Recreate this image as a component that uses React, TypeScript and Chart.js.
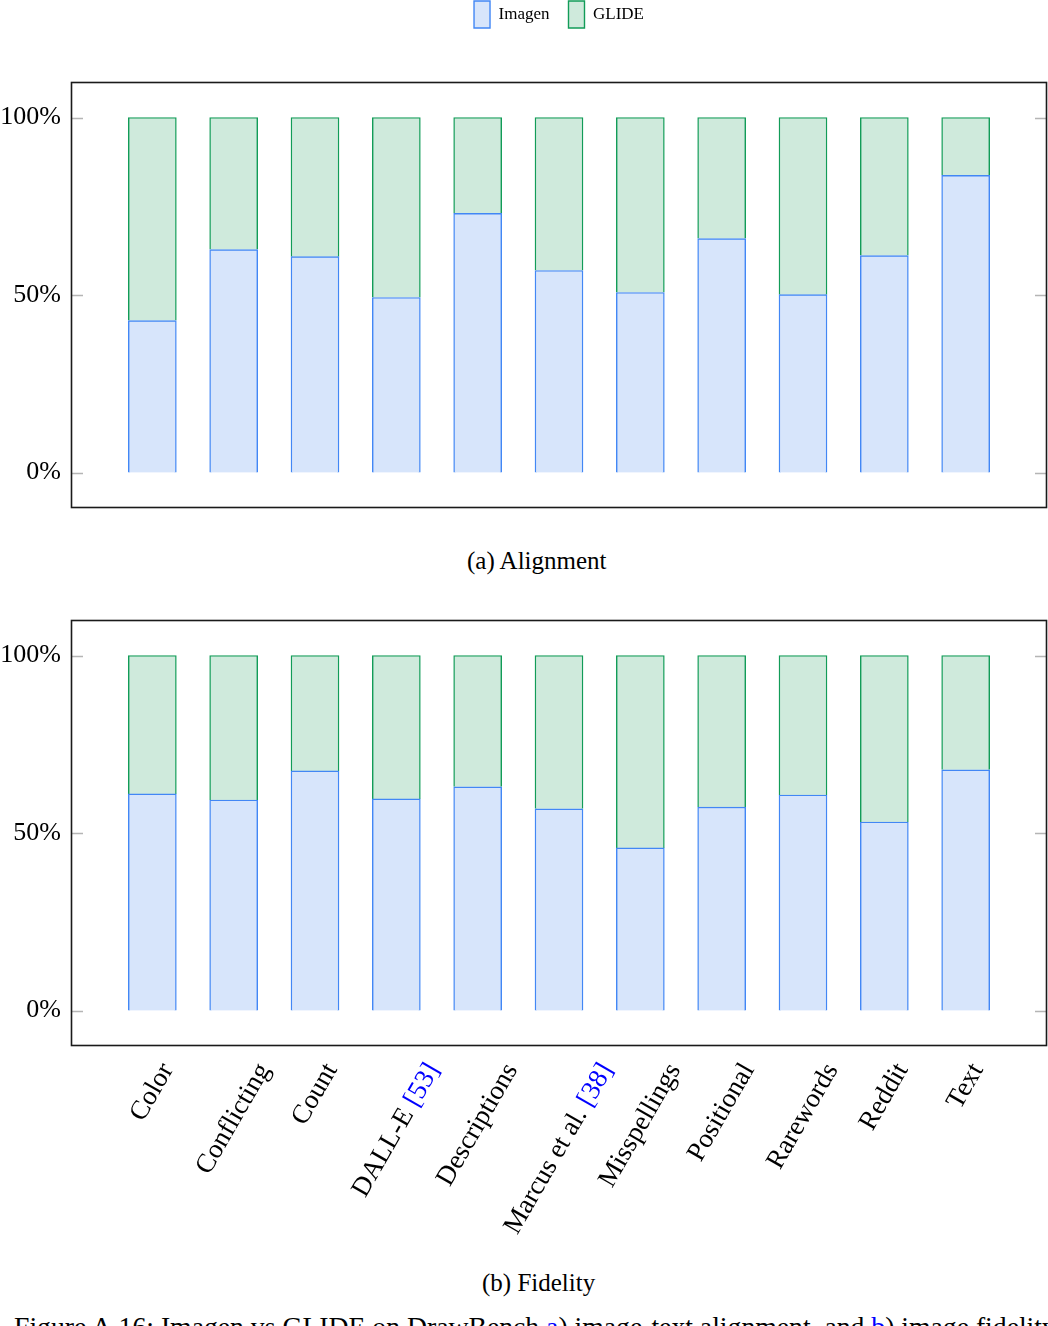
import React, { useEffect, useRef } from 'react';
import { Chart, registerables } from 'chart.js';

Chart.register(...registerables);

// ---------- data ----------
const categories = ['Color', 'Conflicting', 'Count', 'DALL-E', 'Descriptions', 'Marcus et al.', 'Misspellings', 'Positional', 'Rarewords', 'Reddit', 'Text'];
const citations = ['', '', '', '[53]', '', '[38]', '', '', '', '', ''];
const seriesNames = ['Imagen', 'GLIDE'];
const alignmentImagen = [42.8, 62.8, 60.8, 49.3, 73.0, 56.9, 50.7, 65.9, 50.1, 61.1, 83.7];
const alignmentGlide = [57.2, 37.2, 39.2, 50.7, 27.0, 43.1, 49.3, 34.1, 49.9, 38.9, 16.3];
const fidelityImagen = [61.0, 59.3, 67.5, 59.6, 63.0, 56.8, 45.8, 57.3, 60.7, 53.1, 67.8];
const fidelityGlide = [39.0, 40.7, 32.5, 40.4, 37.0, 43.2, 54.2, 42.7, 39.3, 46.9, 32.2];
const yTicks = [0, 50, 100];
const captionA = '(a) Alignment';
const captionB = '(b) Fidelity';

const SERIF = '"Liberation Serif", "Times New Roman", serif';
const IMAGEN_FILL = '#d7e5fb';
const IMAGEN_LINE = '#4287f5';
const GLIDE_FILL = '#cfeadc';
const GLIDE_LINE = '#129c58';

const framePlugin = {
  id: 'frame',
  afterDraw(chart: any) {
    const { ctx, chartArea: a, scales } = chart;
    const y = scales.y;
    ctx.save();
    ctx.strokeStyle = '#b5b5b5';
    ctx.lineWidth = 1.3;
    yTicks.forEach((v) => {
      const py = Math.round(y.getPixelForValue(v)) + 0.5;
      ctx.beginPath();
      ctx.moveTo(a.left, py);
      ctx.lineTo(a.left + 12, py);
      ctx.moveTo(a.right - 12, py);
      ctx.lineTo(a.right, py);
      ctx.stroke();
    });
    ctx.strokeStyle = '#1a1a1a';
    ctx.lineWidth = 1.6;
    ctx.strokeRect(a.left + 0.5, a.top + 0.5, a.right - a.left - 1, a.bottom - a.top - 1);
    ctx.restore();
  },
};

const legendMarginPlugin = {
  id: 'legendMargin',
  beforeInit(chart: any) {
    if (!chart.legend) return;
    const orig = chart.legend.fit;
    chart.legend.fit = function () {
      orig.bind(chart.legend)();
      this.height += 44;
    };
  },
};

const xLabelPlugin = {
  id: 'xLabels',
  afterDraw(chart: any) {
    const { ctx, chartArea: a, scales } = chart;
    const xs = scales.x;
    const ang = Math.PI / 3;
    const fs = 27;
    ctx.save();
    ctx.font = `${fs}px ${SERIF}`;
    ctx.textAlign = 'left';
    ctx.textBaseline = 'middle';
    categories.forEach((name, i) => {
      const cit = citations[i];
      const head = cit ? name + ' ' : name;
      const wHead = ctx.measureText(head).width;
      const wCit = cit ? ctx.measureText(cit).width : 0;
      const W = wHead + wCit;
      const bh = W * Math.sin(ang) + fs * Math.cos(ang);
      const px = xs.getPixelForValue(i);
      ctx.save();
      ctx.translate(px, a.bottom + 13 + bh / 2);
      ctx.rotate(-ang);
      ctx.fillStyle = '#000';
      ctx.fillText(head, -W / 2, 0);
      if (cit) {
        ctx.fillStyle = '#0000ff';
        ctx.fillText(cit, -W / 2 + wHead, 0);
      }
      ctx.restore();
    });
    ctx.restore();
  },
};

function makeConfig(imagen: number[], glide: number[], withLegend: boolean, padding: any, extra: any[]) {
  return {
    type: 'bar',
    data: {
      datasets: [
        {
          label: seriesNames[0],
          data: imagen.map((v, i) => ({ x: i, y: v })),
          backgroundColor: IMAGEN_FILL,
          borderColor: IMAGEN_LINE,
          borderWidth: 1.4,
          barThickness: 48,
        },
        {
          label: seriesNames[1],
          data: glide.map((v, i) => ({ x: i, y: v })),
          backgroundColor: GLIDE_FILL,
          borderColor: GLIDE_LINE,
          borderWidth: 1.4,
          barThickness: 48,
        },
      ],
    },
    options: {
      animation: false,
      responsive: false,
      devicePixelRatio: 1,
      layout: { padding },
      plugins: {
        tooltip: { enabled: false },
        legend: {
          display: withLegend,
          position: 'top',
          fullSize: false,
          labels: {
            boxWidth: 16,
            boxHeight: 27,
            padding: 19,
            color: '#000',
            font: { family: SERIF, size: 17 },
          },
        },
      },
      scales: {
        x: { type: 'linear', min: -1, max: 11, offset: false, stacked: true, display: false },
        y: {
          type: 'linear',
          min: -10,
          max: 110,
          stacked: true,
          grid: { display: false, drawTicks: false },
          border: { display: false },
          ticks: {
            color: '#000',
            padding: 10,
            font: { family: SERIF, size: 26 },
            callback: (v: any) => `${v}%`,
          },
          afterBuildTicks: (axis: any) => {
            axis.ticks = yTicks.map((v) => ({ value: v }));
          },
          afterFit: (axis: any) => {
            axis.width = 71;
            axis.paddingTop = 0;
            axis.paddingBottom = 0;
          },
        },
      },
    },
    plugins: extra,
  } as any;
}

function BarChart(props: { imagen: number[]; glide: number[]; legend: boolean; padding: any; extra: any[]; w: number; h: number; top: number }) {
  const ref = useRef<HTMLCanvasElement | null>(null);
  useEffect(() => {
    if (!ref.current) return;
    const chart = new Chart(ref.current, makeConfig(props.imagen, props.glide, props.legend, props.padding, props.extra));
    return () => chart.destroy();
  }, []);
  return (
    <canvas
      ref={ref}
      width={props.w}
      height={props.h}
      style={{ position: 'absolute', left: 0, top: props.top, width: props.w, height: props.h }}
    />
  );
}

export default function App() {
  const caption: React.CSSProperties = {
    position: 'absolute',
    fontFamily: SERIF,
    fontSize: 25,
    lineHeight: '25px',
    whiteSpace: 'nowrap',
    color: '#000',
  };
  return (
    <div style={{ position: 'absolute', left: 0, top: 0, width: 1048, height: 1326, overflow: 'hidden', background: '#fff' }}>
      <BarChart
        imagen={alignmentImagen}
        glide={alignmentGlide}
        legend={true}
        padding={{ top: 0, right: 1, bottom: 2, left: 0 }}
        extra={[legendMarginPlugin, framePlugin]}
        w={1048}
        h={528}
        top={-18}
      />
      <div style={{ ...caption, left: 467, top: 548 }}>{captionA}</div>
      <BarChart
        imagen={fidelityImagen}
        glide={fidelityGlide}
        legend={false}
        padding={{ top: 20, right: 1, bottom: 214, left: 0 }}
        extra={[framePlugin, xLabelPlugin]}
        w={1048}
        h={660}
        top={600}
      />
      <div style={{ ...caption, left: 482, top: 1270 }}>{captionB}</div>
      <div style={{ ...caption, left: 14, top: 1313, fontSize: 27.7, lineHeight: '27.7px' }}>
        Figure A.16: Imagen vs GLIDE on DrawBench <span style={{ color: '#0000ff' }}>a</span>) image-text alignment, and{' '}
        <span style={{ color: '#0000ff' }}>b</span>) image fidelity.
      </div>
    </div>
  );
}
